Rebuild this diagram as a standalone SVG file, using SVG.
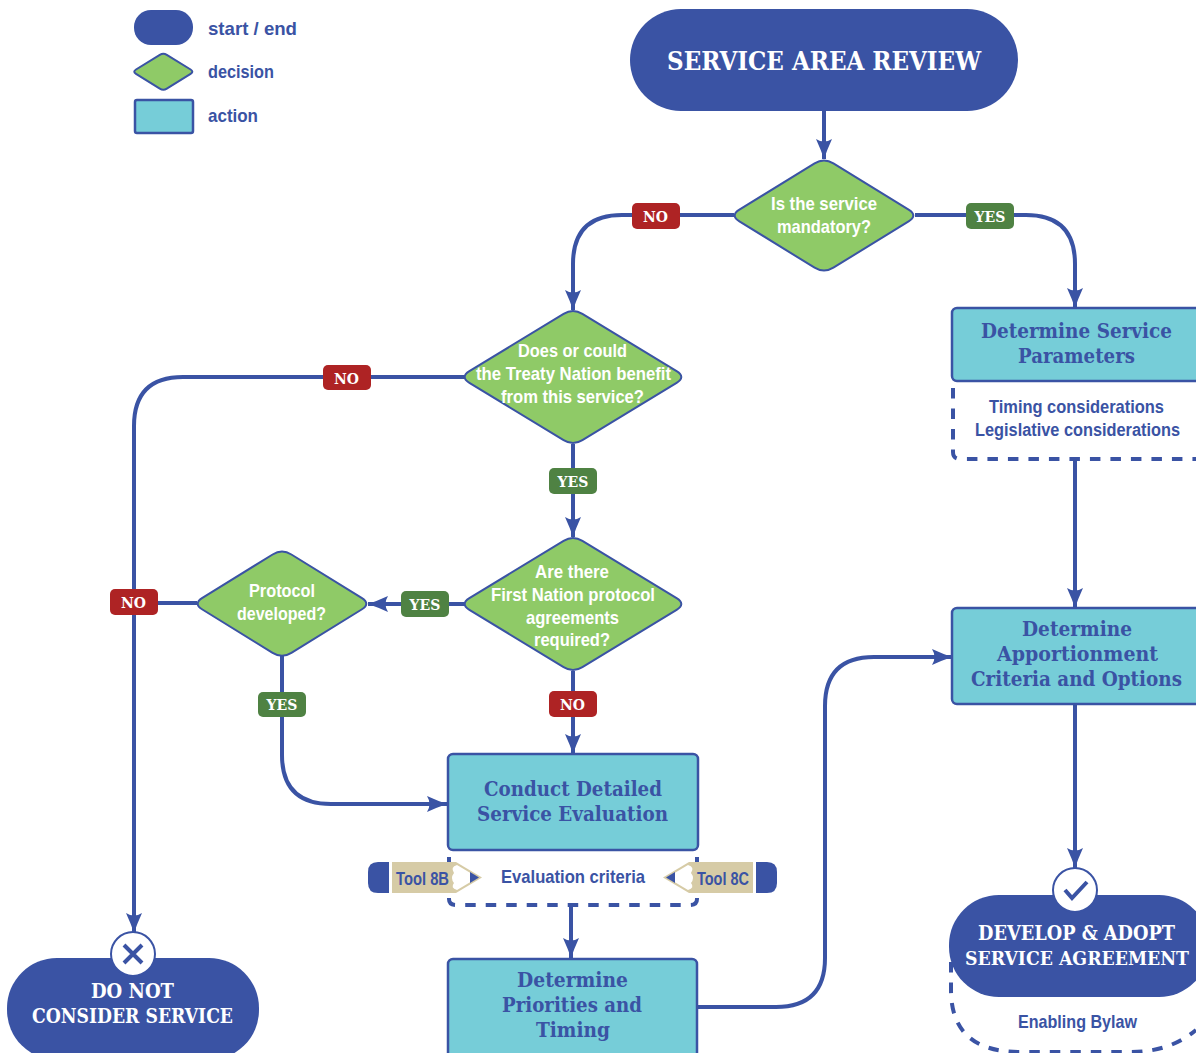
<svg xmlns="http://www.w3.org/2000/svg" width="1196" height="1053" viewBox="0 0 1196 1053">
<defs>
<marker id="arr" markerUnits="userSpaceOnUse" markerWidth="21" markerHeight="18" refX="20" refY="9" orient="auto"><path d="M0 1Q11 6 20 9Q11 12 0 17Q5 9 0 1Z" fill="#3a53a4"/></marker>
</defs>
<style>
.pill{fill:#3a53a4}
.dec{fill:#8fca67;stroke:#3a53a4;stroke-width:2;stroke-linejoin:round}
.act{fill:#76cdd8;stroke:#3a53a4;stroke-width:2.5}
.c{fill:none;stroke:#3a53a4;stroke-width:4}
.d{fill:none;stroke:#3a53a4;stroke-width:4;stroke-dasharray:10.5 10}
text{text-anchor:middle}
.s{font-family:"Liberation Sans",sans-serif;font-weight:700;font-size:18.5px}
.w{fill:#fff}
.b{fill:#3a53a4}
.h{font-family:"DejaVu Serif Condensed","DejaVu Serif","Liberation Serif",serif;font-stretch:condensed;font-weight:700;font-size:20.5px}
.bn{fill:#ae2324}.by{fill:#4f8243}
.t{font-family:"DejaVu Serif",serif;font-weight:700;font-size:14px;fill:#fff}
.tool{fill:#d6cba6}
</style>
<g id="connectors">
<path class="c" d="M824 111V159" marker-end="url(#arr)"/>
<path class="c" d="M734 215H622Q573 215 573 264V310" marker-end="url(#arr)"/>
<path class="c" d="M915 215H1026Q1075 215 1075 264V308" marker-end="url(#arr)"/>
<path class="c" d="M464 377H183Q134 377 134 426V933" marker-end="url(#arr)"/>
<path class="c" d="M573 444V537" marker-end="url(#arr)"/>
<path class="c" d="M464 604H368" marker-end="url(#arr)"/>
<path class="c" d="M197 603H134"/>
<path class="c" d="M573 671V754" marker-end="url(#arr)"/>
<path class="c" d="M282 656V755Q282 804 331 804H447" marker-end="url(#arr)"/>
<path class="c" d="M571 905V958" marker-end="url(#arr)"/>
<path class="c" d="M698 1007H776Q825 1007 825 958V706Q825 657 874 657H952" marker-end="url(#arr)"/>
<path class="c" d="M1075 459V608" marker-end="url(#arr)"/>
<path class="c" d="M1075 704V868" marker-end="url(#arr)"/>
</g>
<g id="legend">
<rect class="pill" x="134" y="10" width="59" height="35" rx="17"/>
<path class="dec" d="M159.800 54.800Q163.300 52.600 166.800 54.800L190.600 69.500Q194.100 71.700 190.600 73.900L166.800 88.600Q163.300 90.800 159.800 88.600L136 73.900Q132.500 71.700 136 69.500Z"/>
<rect class="act" x="135" y="100" width="58" height="33" rx="2"/>
<text class="s b" x="252.500" y="35" textLength="89" lengthAdjust="spacingAndGlyphs">start / end</text>
<text class="s b" x="241" y="77.500" textLength="66" lengthAdjust="spacingAndGlyphs">decision</text>
<text class="s b" x="233" y="121.500" textLength="50" lengthAdjust="spacingAndGlyphs">action</text>
</g>
<g id="n-review">
<rect class="pill" x="630" y="9" width="388" height="102" rx="51"/>
<text class="h w" x="824" y="70" style="font-size:26px" textLength="314" lengthAdjust="spacingAndGlyphs">SERVICE AREA REVIEW</text>
</g>
<g id="n-mandatory">
<path class="dec" d="M814.600 163.300Q824 157.500 833.400 163.300L908.600 209.700Q918 215.500 908.600 221.300L833.400 267.700Q824 273.500 814.600 267.700L739.400 221.300Q730 215.500 739.400 209.700Z"/>
<text class="s w" x="824" y="210" textLength="106" lengthAdjust="spacingAndGlyphs">Is the service</text>
<text class="s w" x="824" y="233" textLength="94" lengthAdjust="spacingAndGlyphs">mandatory?</text>
</g>
<g id="n-benefit">
<path class="dec" d="M563.600 313.800Q573 308 582.400 313.800L676.600 371.200Q686 377 676.600 382.800L582.400 440.200Q573 446 563.600 440.200L469.400 382.800Q460 377 469.400 371.200Z"/>
<text class="s w" x="572.500" y="357" textLength="109" lengthAdjust="spacingAndGlyphs">Does or could</text>
<text class="s w" x="573.500" y="380" textLength="195" lengthAdjust="spacingAndGlyphs">the Treaty Nation benefit</text>
<text class="s w" x="572.500" y="403" textLength="143" lengthAdjust="spacingAndGlyphs">from this service?</text>
</g>
<g id="n-protocol-req">
<path class="dec" d="M563.600 540.800Q573 535 582.400 540.800L676.600 598.200Q686 604 676.600 609.800L582.400 667.200Q573 673 563.600 667.200L469.400 609.800Q460 604 469.400 598.200Z"/>
<text class="s w" x="572" y="578" textLength="74" lengthAdjust="spacingAndGlyphs">Are there</text>
<text class="s w" x="573" y="601" textLength="164" lengthAdjust="spacingAndGlyphs">First Nation protocol</text>
<text class="s w" x="572.500" y="624" textLength="93" lengthAdjust="spacingAndGlyphs">agreements</text>
<text class="s w" x="572" y="646" textLength="76" lengthAdjust="spacingAndGlyphs">required?</text>
</g>
<g id="n-protocol-dev">
<path class="dec" d="M272.600 554.500Q282 548.700 291.400 554.500L361.600 597.900Q371 603.700 361.600 609.500L291.400 652.900Q282 658.700 272.600 652.900L202.400 609.500Q193 603.700 202.400 597.900Z"/>
<text class="s w" x="282" y="597" textLength="66" lengthAdjust="spacingAndGlyphs">Protocol</text>
<text class="s w" x="281.500" y="620" textLength="89" lengthAdjust="spacingAndGlyphs">developed?</text>
</g>
<g id="n-parameters">
<rect class="act" x="952" y="308" width="260" height="73" rx="5"/>
<text class="h b" x="1076.500" y="338" textLength="191" lengthAdjust="spacingAndGlyphs">Determine Service</text>
<text class="h b" x="1076.500" y="363" textLength="117" lengthAdjust="spacingAndGlyphs">Parameters</text>
<path class="d" d="M953 388V452Q953 459 960 459H1196"/>
<text class="s b" x="1076.500" y="413" textLength="175" lengthAdjust="spacingAndGlyphs">Timing considerations</text>
<text class="s b" x="1077.500" y="436" style="font-size:17.5px" textLength="205" lengthAdjust="spacingAndGlyphs">Legislative considerations</text>
</g>
<g id="n-apportion">
<rect class="act" x="952" y="608" width="260" height="96" rx="5"/>
<text class="h b" x="1077" y="636" textLength="110" lengthAdjust="spacingAndGlyphs">Determine</text>
<text class="h b" x="1077.500" y="661" textLength="161" lengthAdjust="spacingAndGlyphs">Apportionment</text>
<text class="h b" x="1076.500" y="686" textLength="211" lengthAdjust="spacingAndGlyphs">Criteria and Options</text>
</g>
<g id="n-evaluation">
<rect class="act" x="448" y="754" width="250" height="96" rx="5"/>
<text class="h b" x="573" y="796" textLength="178" lengthAdjust="spacingAndGlyphs">Conduct Detailed</text>
<text class="h b" x="572.500" y="821" textLength="191" lengthAdjust="spacingAndGlyphs">Service Evaluation</text>
<path class="d" d="M449 857V899Q449 905 456 905H690Q697 905 697 899V857"/>
<rect x="440" y="866" width="270" height="32" fill="#fff"/>
<text class="s b" x="573" y="883" textLength="144" lengthAdjust="spacingAndGlyphs">Evaluation criteria</text>
</g>
<g id="tool-8b">
<path class="pill" d="M389 862V893H378Q368 893 368 883V872Q368 862 378 862Z"/>
<path class="tool" d="M392 862H456L482 877.500L456 893H392Z"/>
<path d="M457 865L478 877.500L457 890Q450 888 454 883Q450 878 454 873Q450 867 457 865Z" fill="#fff"/>
<path class="b" d="M470 872L479 877.500L470 883Z"/>
<text class="s b" x="422.500" y="885" textLength="53" lengthAdjust="spacingAndGlyphs">Tool 8B</text>
</g>
<g id="tool-8c">
<path class="pill" d="M756 862V893H767Q777 893 777 883V872Q777 862 767 862Z"/>
<path class="tool" d="M753 862H689L663 877.500L689 893H753Z"/>
<path d="M688 865L667 877.500L688 890Q695 888 691 883Q695 878 691 873Q695 867 688 865Z" fill="#fff"/>
<path class="b" d="M675 872L666 877.500L675 883Z"/>
<text class="s b" x="723" y="885" textLength="52" lengthAdjust="spacingAndGlyphs">Tool 8C</text>
</g>
<g id="n-priorities">
<rect class="act" x="448" y="959" width="249" height="110" rx="5"/>
<text class="h b" x="572.500" y="987" textLength="111" lengthAdjust="spacingAndGlyphs">Determine</text>
<text class="h b" x="572" y="1012" textLength="140" lengthAdjust="spacingAndGlyphs">Priorities and</text>
<text class="h b" x="573" y="1037" textLength="74" lengthAdjust="spacingAndGlyphs">Timing</text>
</g>
<g id="n-notconsider">
<rect class="pill" x="7" y="958" width="252" height="102" rx="50"/>
<circle cx="133" cy="954" r="22" fill="#fff" stroke="#3a53a4" stroke-width="2"/>
<path d="M124 945L142 963M142 945L124 963" stroke="#3a53a4" stroke-width="4" fill="none"/>
<text class="h w" x="132.500" y="998" textLength="83" lengthAdjust="spacingAndGlyphs">DO NOT</text>
<text class="h w" x="132.500" y="1023" textLength="201" lengthAdjust="spacingAndGlyphs">CONSIDER SERVICE</text>
</g>
<g id="n-develop">
<path class="d" d="M951 962V990Q951 1052 1020 1052H1130Q1170 1052 1196 1030"/>
<rect class="pill" x="949" y="895" width="260" height="102" rx="50"/>
<circle cx="1075" cy="890" r="22" fill="#fff" stroke="#3a53a4" stroke-width="2"/>
<path d="M1065 890L1072 898L1087 882" stroke="#3a53a4" stroke-width="4" fill="none"/>
<text class="h w" x="1076.500" y="940" textLength="197" lengthAdjust="spacingAndGlyphs">DEVELOP &amp; ADOPT</text>
<text class="h w" x="1077" y="965" style="font-size:19.3px" textLength="224" lengthAdjust="spacingAndGlyphs">SERVICE AGREEMENT</text>
<text class="s b" x="1077.500" y="1028" textLength="119" lengthAdjust="spacingAndGlyphs">Enabling Bylaw</text>
</g>
<g id="labels">
<rect class="bn" x="632" y="203" width="48" height="26" rx="5"/><text class="t" x="655.500" y="221.500">NO</text>
<rect class="by" x="966" y="203" width="48" height="26" rx="5"/><text class="t" x="990" y="221.500">YES</text>
<rect class="bn" x="323" y="365" width="48" height="25" rx="5"/><text class="t" x="346.500" y="383.500">NO</text>
<rect class="by" x="549" y="468" width="48" height="26" rx="5"/><text class="t" x="573" y="486.500">YES</text>
<rect class="by" x="401" y="591" width="48" height="26" rx="5"/><text class="t" x="425" y="609.500">YES</text>
<rect class="bn" x="110" y="589" width="48" height="26" rx="5"/><text class="t" x="133.500" y="607.500">NO</text>
<rect class="by" x="258" y="692" width="48" height="25" rx="5"/><text class="t" x="282" y="709.500">YES</text>
<rect class="bn" x="549" y="691" width="48" height="26" rx="5"/><text class="t" x="572.500" y="709.500">NO</text>
</g>
</svg>
